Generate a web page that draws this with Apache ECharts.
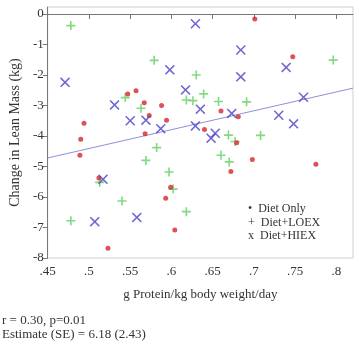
<!DOCTYPE html>
<html>
<head>
<meta charset="utf-8">
<script src="https://cdn.jsdelivr.net/npm/echarts@6/dist/echarts.min.js"></script>
<style>
  html, body { margin: 0; padding: 0; background: #fff; }
  #chart { width: 359px; height: 347px; }
</style>
</head>
<body>
<div id="chart"></div>
<script>
// values: [g protein/kg/day, change in lean mass (kg)]
var dietOnly = [
  [0.490, -4.11], [0.489, -4.63], [0.494, -3.58], [0.512, -5.38], [0.523, -7.68],
  [0.547, -2.62], [0.557, -2.52], [0.567, -2.91], [0.568, -3.93], [0.573, -3.33],
  [0.588, -3.00], [0.594, -3.48], [0.599, -5.68], [0.593, -6.04], [0.604, -7.08],
  [0.640, -3.79], [0.660, -3.18], [0.681, -3.37], [0.679, -4.22], [0.672, -5.16],
  [0.698, -4.77], [0.701, -0.16], [0.747, -1.40], [0.775, -4.93]
]
var dietLoex = [
  [0.478, -0.38], [0.478, -6.78], [0.513, -5.52], [0.540, -6.13], [0.544, -2.74],
  [0.563, -3.09], [0.569, -4.80], [0.579, -1.52], [0.582, -4.38], [0.597, -5.18],
  [0.602, -5.74], [0.618, -6.48], [0.618, -2.82], [0.626, -2.84], [0.630, -2.00],
  [0.639, -2.62], [0.657, -2.87], [0.669, -3.97], [0.677, -4.18], [0.660, -4.63],
  [0.670, -4.85], [0.691, -2.88], [0.708, -3.98], [0.796, -1.51]
]
var dietHiex = [
  [0.471, -2.24], [0.517, -5.42], [0.507, -6.81], [0.558, -6.67], [0.531, -2.98],
  [0.550, -3.50], [0.569, -3.48], [0.587, -3.76], [0.598, -1.83], [0.617, -2.49],
  [0.629, -0.32], [0.635, -3.12], [0.629, -3.67], [0.653, -3.91], [0.648, -4.07],
  [0.673, -3.26], [0.684, -1.18], [0.684, -2.06], [0.739, -1.75], [0.760, -2.73],
  [0.730, -3.32], [0.748, -3.60]
]
// fitted line, ends read at the plot edges
var fitLine = [[0.45, -4.72], [0.82, -2.43]]

var xTicks = [0.45, 0.5, 0.55, 0.6, 0.65, 0.7, 0.75, 0.8]
var yTicks = [0, -1, -2, -3, -4, -5, -6, -7, -8]
var legendLabels = ['\u2022  Diet Only', '+  Diet+LOEX', 'x  Diet+HIEX']
var statsLines = ['r = 0.30, p=0.01', 'Estimate (SE) = 6.18 (2.43)']

var serif = '"Liberation Serif", "DejaVu Serif", serif'
var plusPath = 'path://M4.1,0h1.8v4.1h4.1v1.8h-4.1v4.1h-1.8v-4.1h-4.1v-1.8h4.1z'
var crossPath = 'path://M0,1.1L1.1,0L5,3.9L8.9,0L10,1.1L6.1,5L10,8.9L8.9,10L5,6.1L1.1,10L0,8.9L3.9,5Z'

var chart = echarts.init(document.getElementById('chart'))

var legendItems = legendLabels.map(function(t, i) {
  return {
    type: 'text',
    left: 248,
    top: 203 + i * 13.5,
    style: { text: t, font: '12px ' + serif, fill: '#333' }
  }
})
var statsItems = statsLines.map(function(t, i) {
  return {
    type: 'text',
    left: 2,
    top: 314 + i * 14,
    style: { text: t, font: '13px ' + serif, fill: '#333' }
  }
})

chart.setOption({
  animation: false,
  backgroundColor: '#fff',
  grid: {
    left: 42,
    right: 6,
    top: 7,
    bottom: 89,
    show: true,
    borderColor: '#cfcfcf',
    borderWidth: 1
  },
  xAxis: {
    type: 'value',
    min: 0.45,
    max: 0.82,
    name: 'g Protein/kg body weight/day',
    nameLocation: 'middle',
    nameGap: 30,
    nameTextStyle: { fontFamily: serif, fontSize: 13, color: '#333' },
    axisLine: { lineStyle: { color: '#777' } },
    axisTick: { length: 5, customValues: xTicks, lineStyle: { color: '#777' } },
    axisLabel: {
      customValues: xTicks,
      margin: 7,
      fontFamily: serif,
      fontSize: 13,
      color: '#333',
      formatter: function(v) {
        return String(+v.toFixed(2)).replace(/^0/, '')
      }
    },
    splitLine: { show: false }
  },
  yAxis: {
    type: 'value',
    min: -8,
    max: 0.23,
    name: 'Change in Lean Mass (kg)',
    nameLocation: 'middle',
    nameGap: 22,
    nameTextStyle: { fontFamily: serif, fontSize: 14, color: '#333' },
    axisLine: { show: true, lineStyle: { color: '#777' } },
    axisTick: { show: true, length: 5, customValues: yTicks, lineStyle: { color: '#777' } },
    axisLabel: {
      customValues: yTicks,
      margin: 4,
      fontFamily: serif,
      fontSize: 13,
      color: '#333'
    },
    splitLine: { show: false }
  },
  graphic: legendItems.concat(statsItems),
  series: [
    {
      name: 'fit',
      type: 'line',
      data: fitLine,
      symbol: 'none',
      lineStyle: { color: '#8f8fdc', width: 1 },
      z: 1
    },
    {
      name: 'Diet Only',
      type: 'scatter',
      data: dietOnly,
      symbol: 'circle',
      symbolSize: 5,
      itemStyle: { color: '#d8262b' },
      z: 3
    },
    {
      name: 'Diet+LOEX',
      type: 'scatter',
      data: dietLoex,
      symbol: plusPath,
      symbolSize: 9,
      itemStyle: { color: '#63d063' },
      z: 2
    },
    {
      name: 'Diet+HIEX',
      type: 'scatter',
      data: dietHiex,
      symbol: crossPath,
      symbolSize: 10,
      itemStyle: { color: '#4a42c4' },
      z: 4
    }
  ]
})
</script>
</body>
</html>
